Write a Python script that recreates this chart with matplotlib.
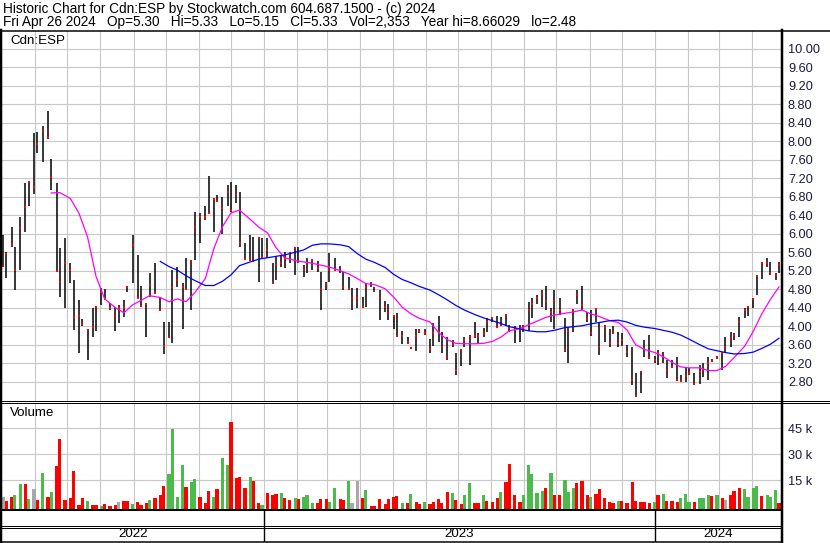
import numpy as np
import pandas as pd
import matplotlib
matplotlib.use("Agg")
import matplotlib.pyplot as plt
import matplotlib.dates as mdates
from matplotlib.ticker import FixedLocator, FuncFormatter

plt.rcParams['font.family'] = ['Liberation Sans', 'DejaVu Sans']

# ---------------- data ----------------
first_day = "2022-05-02"
last_day = "2024-04-26"
# one bar for every third trading day
sample_step = 3

high = [5.98, 5.60, 6.15, 5.72, 6.37, 7.09, 7.15, 8.17, 8.20, 8.32,
        8.66, 7.61, 7.10, 5.68, 5.90, 5.36, 4.99, 4.57, 4.15, 3.92,
        4.39, 4.42, 4.82, 4.80, 4.50, 4.42, 4.45, 4.57, 4.87, 5.98,
        5.54, 4.87, 4.49, 5.14, 5.36, 4.64, 4.10, 4.08, 5.22, 5.29,
        4.93, 5.47, 5.42, 6.47, 6.44, 6.60, 7.25, 6.78, 6.84, 6.80,
        7.05, 7.12, 7.05, 6.91, 5.79, 5.97, 5.93, 5.90, 5.90, 5.90,
        5.36, 5.50, 5.52, 5.60, 5.58, 5.70, 5.72, 5.33, 5.47, 5.45,
        5.40, 5.18, 4.96, 5.58, 5.47, 5.30, 5.18, 5.07, 4.82, 4.82,
        4.64, 4.93, 4.96, 4.85, 4.78, 4.55, 4.48, 4.21, 4.28, 3.90,
        3.77, 3.55, 3.93, 3.93, 3.93, 3.72, 4.06, 4.22, 3.88, 3.77,
        3.70, 3.41, 3.50, 3.77, 3.81, 4.10, 3.85, 3.96, 4.17, 4.20,
        4.21, 4.19, 4.24, 4.02, 4.00, 4.02, 4.02, 4.53, 4.60, 4.67,
        4.78, 4.87, 4.40, 4.78, 4.60, 4.17, 3.99, 4.37, 4.78, 4.87,
        4.31, 4.35, 4.37, 4.10, 4.02, 3.95, 4.00, 3.88, 3.85, 3.59,
        3.56, 2.98, 3.02, 3.70, 3.81, 3.36, 3.49, 3.45, 3.27, 3.27,
        3.34, 2.95, 3.12, 3.09, 2.98, 3.16, 3.20, 3.34, 3.29, 3.36,
        3.45, 3.77, 3.88, 3.85, 4.20, 4.39, 4.42, 4.60, 5.11, 5.39,
        5.47, 5.39, 5.14, 5.38]

low = [5.29, 5.05, 5.72, 4.78, 5.21, 6.04, 6.60, 6.85, 7.75, 7.56,
       8.05, 6.94, 5.18, 4.64, 4.39, 4.93, 3.92, 3.41, 4.00, 3.27,
       3.76, 3.90, 4.45, 4.57, 4.35, 3.89, 4.06, 4.20, 4.75, 4.93,
       4.60, 4.42, 3.76, 4.64, 4.70, 4.34, 3.40, 3.76, 3.64, 4.85,
       3.95, 4.81, 4.35, 5.43, 5.80, 6.30, 6.45, 6.04, 6.70, 6.00,
       6.60, 6.47, 6.66, 5.72, 5.44, 5.43, 5.40, 4.96, 5.50, 5.47,
       4.93, 5.00, 5.29, 5.25, 5.37, 5.11, 5.38, 5.07, 5.14, 5.22,
       5.18, 4.35, 4.78, 4.96, 5.20, 5.15, 4.78, 4.78, 4.35, 4.39,
       4.42, 4.42, 4.85, 4.75, 4.13, 4.30, 4.13, 3.95, 3.77, 3.62,
       3.62, 3.50, 3.46, 3.85, 3.80, 3.43, 3.58, 3.66, 3.41, 3.27,
       3.56, 2.94, 3.15, 3.55, 3.17, 3.74, 3.63, 3.77, 3.88, 4.08,
       3.96, 4.00, 4.00, 3.88, 3.63, 3.66, 3.88, 3.90, 4.17, 4.49,
       4.42, 4.35, 4.10, 3.95, 4.24, 3.45, 3.20, 3.88, 4.49, 4.35,
       4.10, 3.78, 4.10, 3.38, 3.65, 3.56, 3.85, 3.56, 3.58, 3.34,
       2.73, 2.48, 2.55, 3.34, 3.30, 3.20, 3.16, 3.20, 2.87, 3.12,
       2.84, 2.80, 2.80, 2.94, 2.76, 2.76, 2.90, 2.84, 3.22, 3.30,
       3.05, 3.41, 3.56, 3.70, 3.77, 4.17, 4.22, 4.40, 4.67, 5.03,
       5.28, 5.10, 5.00, 5.15]

close = [5.31, 5.56, 5.78, 5.21, 6.13, 6.58, 7.11, 7.00, 7.95, 8.21,
         8.10, 7.23, 5.20, 4.95, 5.36, 5.21, 4.20, 4.21, 4.05, 3.92,
         3.99, 4.41, 4.75, 4.59, 4.40, 4.22, 4.39, 4.39, 4.84, 5.76,
         4.61, 4.44, 4.49, 4.90, 4.72, 4.34, 3.57, 3.76, 4.85, 5.00,
         4.85, 4.81, 5.42, 6.15, 6.37, 6.37, 6.45, 6.75, 6.71, 6.55,
         6.90, 6.51, 6.85, 5.80, 5.45, 5.43, 5.40, 5.90, 5.50, 5.65,
         4.94, 5.32, 5.36, 5.46, 5.58, 5.68, 5.38, 5.21, 5.37, 5.43,
         5.26, 4.80, 4.91, 5.22, 5.22, 5.22, 4.84, 4.80, 4.62, 4.62,
         4.42, 4.85, 4.91, 4.77, 4.60, 4.41, 4.28, 4.21, 3.79, 3.79,
         3.64, 3.52, 3.79, 3.90, 3.86, 3.50, 3.85, 3.88, 3.56, 3.34,
         3.61, 3.06, 3.49, 3.71, 3.76, 3.79, 3.79, 3.85, 4.10, 4.17,
         3.99, 4.03, 4.24, 3.96, 3.93, 3.93, 3.96, 4.36, 4.49, 4.62,
         4.69, 4.55, 4.30, 4.55, 4.35, 3.49, 3.90, 4.36, 4.67, 4.45,
         4.15, 3.86, 4.37, 3.56, 3.99, 3.64, 3.86, 3.63, 3.71, 3.45,
         2.84, 2.49, 3.00, 3.50, 3.34, 3.27, 3.43, 3.34, 3.05, 3.12,
         2.84, 2.82, 2.92, 2.99, 2.76, 3.00, 3.05, 3.21, 3.25, 3.32,
         3.41, 3.56, 3.72, 3.81, 4.10, 4.36, 4.41, 4.59, 5.08, 5.36,
         5.36, 5.16, 5.10, 5.33]

# volume in thousands of shares, and day type: g = up, r = down, n = unchanged
volume_k = [5.6, 3.0, 5.6, 6.5, 12.9, 12.9, 4.2, 9.8, 3.6, 19.0,
            5.6, 8.4, 23.3, 38.6, 3.6, 5.0, 20.4, 0.8, 4.6, 3.2,
            0.5, 0.5, 0.3, 1.3, 0.4, 0.8, 2.7, 3.2, 3.1, 1.3,
            2.7, 0.8, 2.1, 3.6, 5.0, 6.5, 11.7, 18.6, 44.4, 5.6,
            23.8, 10.9, 14.2, 15.5, 5.6, 2.1, 9.0, 5.6, 9.8, 27.7,
            23.8, 48.4, 16.1, 16.7, 10.4, 16.7, 14.8, 1.7, 0.5, 7.5,
            6.5, 7.1, 7.9, 4.6, 3.6, 4.6, 4.0, 5.6, 6.5, 2.1,
            1.7, 4.0, 4.0, 2.7, 10.4, 4.0, 3.6, 14.4, 1.7, 14.8,
            4.8, 9.4, 0.4, 0.4, 4.0, 1.3, 4.4, 5.6, 5.9, 1.7,
            2.0, 6.9, 2.5, 1.5, 2.7, 1.5, 2.7, 4.0, 2.0, 8.4,
            7.5, 3.6, 1.5, 6.5, 13.2, 2.0, 1.7, 6.5, 3.0, 2.5,
            4.6, 8.4, 13.8, 24.4, 6.5, 2.3, 6.5, 23.8, 18.4, 7.5,
            8.8, 10.4, 19.0, 6.5, 6.5, 15.2, 8.4, 10.4, 13.2, 14.6,
            6.5, 5.6, 6.9, 10.0, 4.6, 2.7, 2.0, 3.0, 3.0, 2.0,
            14.2, 3.0, 2.3, 2.7, 1.7, 2.7, 6.5, 7.3, 3.0, 3.0,
            2.7, 4.6, 6.9, 2.7, 2.3, 4.6, 5.0, 6.5, 5.9, 6.5,
            4.6, 3.6, 6.5, 8.8, 10.4, 10.0, 5.6, 10.4, 11.7, 6.1,
            6.5, 5.6, 9.4, 1.7]

day_type = list(
    "nrrggrgnrg" "rgrrrrrrrg" "rrgrrrnrrg" "rrrgrrrggg"
    "grggrrrgrg" "grrrrgrrgr" "rrgrrgrggg" "rrrggrrgnn"
    "rgrrrrrrrg" "rgrrgrrrrr" "grrggrrgrr" "rgrrrrgggg"
    "grgrrgggrr" "rgrrrrrgrr" "rrrrrgrgrr" "rgggrgggrg"
    "rnrrrgggg" "rgggr"
)

# moving averages, every second sample
fast_ma_first = 11
fast_ma = [6.88, 6.89, 6.76, 6.44, 5.93, 5.07, 4.59, 4.40, 4.29, 4.46,
           4.56, 4.66, 4.62, 4.53, 4.59, 4.53, 4.72, 5.03, 5.68, 6.15,
           6.45, 6.51, 6.31, 6.14, 6.02, 5.70, 5.48, 5.42, 5.39, 5.36,
           5.32, 5.28, 5.20, 5.13, 5.03, 4.92, 4.90, 4.81, 4.63, 4.41,
           4.27, 4.17, 4.09, 3.86, 3.71, 3.63, 3.62, 3.62, 3.63, 3.67,
           3.76, 3.90, 3.95, 4.03, 4.11, 4.19, 4.24, 4.28, 4.31, 4.35,
           4.27, 4.21, 4.12, 4.08, 3.92, 3.60, 3.50, 3.43, 3.34, 3.22,
           3.12, 3.10, 3.10, 3.04, 3.04, 3.13, 3.32, 3.57, 3.89, 4.27,
           4.58, 4.85]
slow_ma_first = 35
slow_ma = [5.40, 5.29, 5.21, 5.09, 4.99, 4.88, 4.88, 4.97, 5.11, 5.31,
           5.39, 5.45, 5.48, 5.51, 5.54, 5.60, 5.65, 5.75, 5.78, 5.78,
           5.76, 5.72, 5.57, 5.45, 5.38, 5.27, 5.12, 5.01, 4.94, 4.86,
           4.78, 4.68, 4.57, 4.45, 4.35, 4.25, 4.18, 4.12, 4.06, 3.99,
           3.94, 3.90, 3.88, 3.88, 3.91, 3.97, 3.99, 4.01, 4.05, 4.08,
           4.12, 4.13, 4.09, 4.02, 3.98, 3.95, 3.91, 3.87, 3.81, 3.72,
           3.60, 3.51, 3.47, 3.43, 3.40, 3.41, 3.44, 3.52, 3.61, 3.74]

price_ticks = [2.80, 3.20, 3.60, 4.00, 4.40, 4.80, 5.20, 5.60, 6.00, 6.40,
               6.80, 7.20, 7.60, 8.00, 8.40, 8.80, 9.20, 9.60, 10.00]
volume_ticks = [15, 30, 45]
year_starts = ["2022-01-01", "2023-01-01", "2024-01-01", "2025-01-01"]
year_labels = ["2022", "2023", "2024"]

title_line = "Historic Chart for Cdn:ESP by Stockwatch.com 604.687.1500 - (c) 2024"
info_fields = ["Fri Apr 26 2024", "Op=5.30", "Hi=5.33", "Lo=5.15", "Cl=5.33",
               "Vol=2,353", "Year hi=8.66029", "lo=2.48"]
symbol = "Cdn:ESP"

# ---------------- figure ----------------
W, H = 830, 543
fig = plt.figure(figsize=(W / 100, H / 100), dpi=100)
fig.patch.set_facecolor("white")

def frac_box(x0, y0, x1, y1):
    return [x0 / W, 1 - y1 / H, (x1 - x0) / W, (y1 - y0) / H]

days = pd.bdate_range(first_day, last_day)
dates = days[::sample_step]
xd = mdates.date2num(dates)
t0 = mdates.date2num(pd.Timestamp(first_day))
t1 = mdates.date2num(pd.Timestamp(last_day))
px_per_day = 776.0 / (t1 - t0)
xlim = (t0 - 1.0 / px_per_day, t1 + 2.0 / px_per_day)

grid_col = "#c8c8c8"
lab_col = "#1a1a40"
fs = 9.2
months = mdates.MonthLocator()

# price panel
axp = fig.add_axes(frac_box(2, 31, 781, 400.5))
axp.set_xlim(*xlim)
axp.set_ylim(2.8 - 18.8 / 46.25, 2.8 + 350.7 / 46.25)
axp.xaxis.set_major_locator(months)
axp.xaxis.set_major_formatter(plt.NullFormatter())
axp.yaxis.set_major_locator(FixedLocator(price_ticks))
axp.yaxis.set_major_formatter(FuncFormatter(lambda v, p: f"{v:.2f}"))
axp.yaxis.tick_right()
axp.tick_params(axis="both", length=0)
axp.tick_params(axis="y", pad=5, labelsize=fs, labelcolor=lab_col)
axp.grid(True, color=grid_col, lw=0.8)
axp.set_axisbelow(True)
for s in axp.spines.values():
    s.set_visible(False)

axp.vlines(xd, low, high, color="black", lw=1.1, zorder=3)
axp.plot(xd, close, "s", color="red", ms=2.0, mew=0, zorder=4)
fx = xd[fast_ma_first::2][:len(fast_ma)]
sx = xd[slow_ma_first::2][:len(slow_ma)]
axp.plot(fx, fast_ma, color="#ff00ff", lw=0.9, zorder=5)
axp.plot(sx, slow_ma, color="#0000ff", lw=0.9, zorder=5)
axp.text(8 / 779, 1 - 10.5 / 369.5, symbol, transform=axp.transAxes,
         fontsize=fs + 0.4, va="center", ha="left", color="black")

# volume panel
axv = fig.add_axes(frac_box(2, 402.5, 781, 509))
axv.set_xlim(*xlim)
vlo = (506.3 - 509) / 26 * 15
vhi = (506.3 - 402.5) / 26 * 15
axv.set_ylim(vlo, vhi)
axv.xaxis.set_major_locator(months)
axv.xaxis.set_major_formatter(plt.NullFormatter())
axv.yaxis.set_major_locator(FixedLocator(volume_ticks))
axv.yaxis.set_major_formatter(FuncFormatter(lambda v, p: f"{int(v)} k"))
axv.yaxis.tick_right()
axv.tick_params(axis="both", length=0)
axv.tick_params(axis="y", pad=5, labelsize=fs, labelcolor=lab_col)
axv.grid(True, color=grid_col, lw=0.8)
axv.set_axisbelow(True)
for s in axv.spines.values():
    s.set_visible(False)
cmap = {"g": "#4cbb4c", "r": "#ff0000", "n": "#a8a8a8"}
vols = np.array(volume_k)
axv.bar(xd, vols - vlo, bottom=vlo, width=3.0, color=[cmap[c] for c in day_type],
        align="center", zorder=3, linewidth=0)
axv.text(8 / 779, 1 - 11 / 106.5, "Volume", transform=axv.transAxes,
         fontsize=fs + 0.4, va="center", ha="left", color="black")

# date band
axb = fig.add_axes(frac_box(2, 510, 781, 542))
axb.set_xlim(*xlim)
axb.set_ylim(0, 1)
axb.axis("off")
ys = [mdates.date2num(pd.Timestamp(d)) for d in year_starts]
for d in ys[1:-1]:
    axb.axvline(d, color="black", lw=1.0)
for i, lab in enumerate(year_labels):
    a = max(ys[i], xlim[0])
    b = min(ys[i + 1], xlim[1])
    axb.text((a + b) / 2, 0.25, lab, ha="center", va="center",
             fontsize=fs + 0.4, color="black")

# frame lines (pixel overlay)
axo = fig.add_axes([0, 0, 1, 1], zorder=10)
axo.set_xlim(0, W)
axo.set_ylim(H, 0)
axo.axis("off")
axo.patch.set_alpha(0)
k = 0.72
axo.plot([0, W], [30.5, 30.5], color="black", lw=1.5 * k)
axo.plot([1, 1], [30, H], color="black", lw=2.5 * k)
axo.plot([782, 782], [30, H], color="black", lw=2.5 * k)
axo.plot([0, W], [400.5, 400.5], color="black", lw=1.0 * k)
axo.plot([0, W], [402.5, 402.5], color="black", lw=1.0 * k)
axo.plot([0, 782], [509.5, 509.5], color="black", lw=2.0 * k)
axo.plot([0, 782], [526, 526], color="black", lw=1.0 * k)
axo.plot([0, 782], [528, 528], color="black", lw=1.0 * k)
axo.plot([0, 782], [542, 542], color="black", lw=1.5 * k)

fig.text(3 / W, 1 - 8.5 / H, title_line, fontsize=fs + 0.6, va="center", ha="left")
fig.text(3 / W, 1 - 22 / H, "   ".join(info_fields), fontsize=fs + 0.6,
         va="center", ha="left")

fig.savefig("out.png", dpi=100, facecolor="white")
